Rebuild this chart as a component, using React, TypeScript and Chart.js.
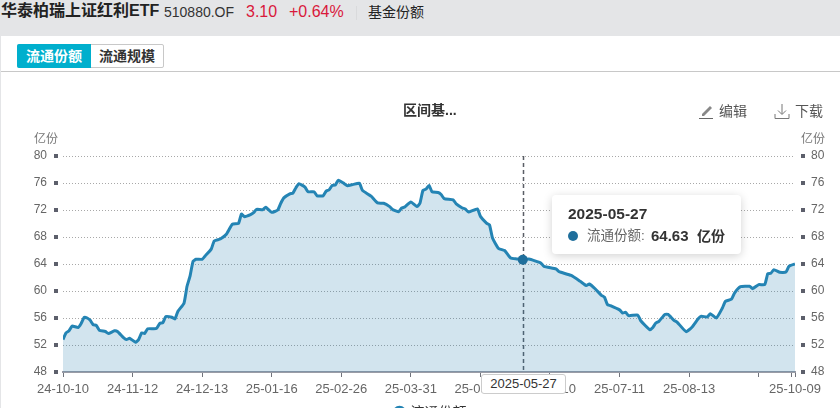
import React, { useEffect, useRef } from "react";
import { Chart, registerables } from "chart.js";

Chart.register(...registerables);

const FONT = '"Liberation Sans", "Noto Sans CJK SC", sans-serif';

const seriesName = "流通份额";
const unit = "亿份";
const activeDate = "2025-05-27";
const activeDay = 152;

const tickDays = [0, 23, 46, 69, 92, 115, 138, 161, 184, 207, 230, 241, 242];
const tickLabels = ["24-10-10", "24-11-12", "24-12-13", "25-01-16", "25-02-26", "25-03-31", "25-05-07", "25-06-10", "25-07-11", "25-08-13", "", "", "25-10-09"];

const days = [
  0, 1, 2, 3, 5, 6, 7, 8, 9, 10, 11, 12, 14, 15, 17, 18, 20, 21, 22, 24, 25, 26, 27, 28, 30, 31, 32, 33, 34, 36, 37, 38, 40, 41, 42, 43, 44, 46, 47, 49, 50, 52, 54, 56, 58, 59, 60, 62, 63, 64, 66, 67, 69, 71,
  72, 73, 75, 76, 77, 78, 80, 81, 83, 84, 86, 87, 88, 89, 90, 91, 93, 94, 96, 98, 99, 101, 102, 104, 106, 108, 109, 111, 112, 113, 115, 117, 118, 119, 120, 121, 122, 124, 125, 126, 129, 130, 132, 133, 134, 137, 138, 140, 141, 142, 144, 146, 148, 150, 152,
  154, 158, 159, 163, 164, 168, 171, 173, 174, 176, 178, 179, 180, 181, 184, 185, 186, 187, 190, 191, 194, 195, 196, 197, 199, 200, 202, 203, 206, 208, 210, 211, 213, 214, 216, 218, 219, 221, 222, 224, 227, 228, 230, 232, 233, 234, 235, 237, 239, 240, 242,
];
const shares = [
  52.8, 53.8, 54.1, 54.8, 54.6, 55.2, 56.1, 56.0, 55.65, 55.0, 54.9, 54.2, 54.0, 53.7, 54.1, 54.0, 53.1, 52.8, 53.0, 52.4, 52.8, 53.8, 53.7, 54.4, 54.4, 54.5, 55.2, 55.3, 56.2, 56.1, 55.85, 57.0, 58.2, 60.7, 62.2, 64.4, 64.7, 64.7, 65.2, 66.2, 67.4, 67.7, 68.4, 69.9, 70.0, 71.4, 71.0, 71.3, 71.6, 72.1, 72.05, 72.4, 71.65, 72.0,
  73.0, 73.8, 74.4, 74.5, 75.3, 75.9, 75.4, 74.7, 74.7, 74.1, 74.1, 74.8, 75.0, 75.65, 75.7, 76.4, 75.9, 75.6, 75.8, 75.95, 74.9, 74.3, 74.0, 73.05, 73.0, 72.5, 72.05, 71.75, 72.3, 72.45, 73.2, 72.5, 73.0, 74.9, 75.1, 75.65, 74.7, 74.6, 74.3, 73.7, 73.5, 72.9, 72.3, 72.15, 71.7, 72.15, 71.05, 70.05, 69.8, 67.85, 66.3, 66.0, 64.9, 64.75, 64.63,
  64.74, 64.15, 63.65, 63.26, 62.86, 62.3, 61.43, 60.8, 61.04, 60.3, 59.36, 59.1, 57.97, 57.83, 57.2, 56.74, 56.84, 56.35, 56.44, 55.6, 54.27, 54.6, 55.26, 55.5, 56.54, 56.54, 55.65, 55.4, 53.98, 54.67, 55.9, 56.25, 56.15, 56.64, 56.0, 57.48, 58.47, 58.8, 59.7, 60.64, 60.7, 60.35, 60.94, 60.94, 62.57, 62.62, 63.16, 62.77, 62.8, 63.65, 64.0,
];

const abs = (left: number, top: number, extra: React.CSSProperties = {}): React.CSSProperties => ({
  position: "absolute",
  left,
  top,
  whiteSpace: "nowrap",
  ...extra,
});

export default function App() {
  const canvasRef = useRef<HTMLCanvasElement>(null);
  const tipRef = useRef<HTMLDivElement>(null);
  const tipValueRef = useRef<HTMLSpanElement>(null);
  const dateBoxRef = useRef<HTMLDivElement>(null);

  useEffect(() => {
    document.body.style.margin = "0";
    document.body.style.overflow = "hidden";
    document.documentElement.style.overflow = "hidden";

    const decorations = {
      id: "decorations",
      afterLayout(chart: any) {
        chart.legend.left += 11;
        chart.legend.right += 11;
      },
      beforeDatasetsDraw(chart: any) {
        const { ctx, chartArea } = chart;
        const active = chart.getActiveElements()[0];
        if (!active) return;
        ctx.save();
        ctx.strokeStyle = "#5a5e66";
        ctx.lineWidth = 1.5;
        ctx.setLineDash([4, 3]);
        ctx.beginPath();
        const x = Math.round(active.element.x) + 0.5;
        ctx.moveTo(x, chartArea.top);
        ctx.lineTo(x, chartArea.bottom);
        ctx.stroke();
        ctx.restore();
      },
      afterDraw(chart: any) {
        const { ctx, chartArea, scales } = chart;
        ctx.save();
        ctx.fillStyle = "#5c5f6b";
        scales.y.ticks.forEach((_: any, i: number) => {
          const y = Math.round(scales.y.getPixelForTick(i));
          ctx.fillRect(chartArea.left - 9, y - 2, 4, 4);
          ctx.fillRect(chartArea.right + 6, y - 2, 4, 4);
        });
        ctx.restore();
      },
    };

    const yCommon = {
      min: 48,
      max: 80,
      ticks: {
        stepSize: 4,
        padding: 16,
        color: "#666",
        font: { family: FONT, size: 12 },
      },
    };

    const chart = new Chart(canvasRef.current!, {
      type: "line",
      data: {
        datasets: [
          {
            label: seriesName,
            data: days.map((d, i) => ({ x: d, y: shares[i] })),
            borderColor: "#2484b4",
            backgroundColor: "rgba(31,119,170,0.2)",
            borderWidth: 3,
            fill: "start",
            tension: 0.15,
            pointRadius: 0,
            pointStyle: "circle",
            pointHoverRadius: 5,
            pointHoverBorderWidth: 0,
            pointBackgroundColor: "#2484b4",
            pointHoverBackgroundColor: "#1f6f9c",
            yAxisID: "y",
          },
        ],
      },
      options: {
        responsive: false,
        animation: false,
        events: [],
        layout: { padding: { top: 156, left: 0, right: 0, bottom: 0 } },
        scales: {
          x: {
            type: "linear",
            min: 0,
            max: 242,
            grid: { drawOnChartArea: false, drawTicks: true, tickLength: 5, color: "#70737c" },
            border: { display: true, color: "#9a9ca6", width: 2 },
            afterBuildTicks(scale: any) {
              scale.ticks = tickDays.map((value) => ({ value }));
            },
            afterFit(scale: any) {
              scale.height = 24;
            },
            ticks: {
              autoSkip: false,
              maxRotation: 0,
              minRotation: 0,
              padding: 5,
              color: "#666",
              font: { family: FONT, size: 13 },
              callback: (v: any) => tickLabels[tickDays.indexOf(v)] ?? "",
            },
          },
          y: {
            ...yCommon,
            position: "left",
            border: { display: false, dash: [1, 2] },
            grid: { drawTicks: false, color: "#a8a8a8", lineWidth: 1 },
            afterFit(scale: any) {
              scale.width = 63;
            },
          },
          y2: {
            ...yCommon,
            position: "right",
            border: { display: false },
            grid: { display: false, drawTicks: false },
            afterFit(scale: any) {
              scale.width = 45;
            },
          },
        } as any,
        plugins: {
          title: { display: false },
          legend: {
            display: true,
            position: "bottom",
            labels: {
              usePointStyle: true,
              boxWidth: 8,
              boxHeight: 8,
              padding: 10,
              color: "#333",
              font: { family: FONT, size: 14 },
            },
          },
          tooltip: {
            enabled: false,
            external({ tooltip }: any) {
              const tip = tipRef.current!;
              const box = dateBoxRef.current!;
              const point = tooltip.dataPoints?.[0];
              if (!point) return;
              tip.style.display = "block";
              tip.style.left = `${Math.round(tooltip.caretX) + 29}px`;
              tip.style.top = `${Math.round(tooltip.caretY) - 65}px`;
              tipValueRef.current!.textContent = point.parsed.y.toFixed(2);
              box.style.display = "block";
              box.style.left = `${Math.round(tooltip.caretX) - 42}px`;
            },
          },
        },
      } as any,
      plugins: [decorations],
    });

    const index = days.indexOf(activeDay);
    const active = [{ datasetIndex: 0, index }];
    chart.setActiveElements(active);
    chart.update();
    const el = chart.getDatasetMeta(0).data[index] as any;
    chart.tooltip!.setActiveElements(active, { x: el.x, y: el.y });
    chart.render();

    return () => chart.destroy();
  }, []);

  return (
    <div style={{ position: "relative", width: 840, height: 408, overflow: "hidden", background: "#fff", fontFamily: FONT }}>
      <div style={abs(0, 0, { width: 840, height: 36, background: "#e4e5e7" })} />
      <div style={abs(0, 36, { width: 1, height: 372, background: "#e4e5e7" })} />
      <div style={abs(1, 1, { fontSize: 16, fontWeight: 700, color: "#222", lineHeight: "20px" })}>华泰柏瑞上证红利ETF</div>
      <div style={abs(164, 3, { fontSize: 14, color: "#333", lineHeight: "18px" })}>510880.OF</div>
      <div style={abs(246, 2, { fontSize: 16, color: "#d9183b", lineHeight: "20px" })}>3.10</div>
      <div style={abs(289, 2, { fontSize: 16, color: "#d9183b", lineHeight: "20px" })}>+0.64%</div>
      <div style={abs(356, 6, { width: 1, height: 14, background: "#d9dadc" })} />
      <div style={abs(368, 3, { fontSize: 14, color: "#222", lineHeight: "18px" })}>基金份额</div>

      <div style={abs(17, 44, { width: 147, height: 24, border: "1px solid #c8c8c8", borderRadius: 2, boxSizing: "border-box" })} />
      <div style={abs(17, 44, { width: 74, height: 24, background: "#00afcd", borderRadius: "2px 0 0 2px", color: "#fff", fontSize: 14, fontWeight: 700, lineHeight: "24px", textAlign: "center" })}>流通份额</div>
      <div style={abs(91, 44, { width: 72, height: 24, color: "#333", fontSize: 14, fontWeight: 700, lineHeight: "24px", textAlign: "center" })}>流通规模</div>
      <div style={abs(1, 71, { width: 839, height: 1, background: "#c8c8c8" })} />

      <canvas ref={canvasRef} width={840} height={430} style={abs(0, 0, { display: "block" })} />

      <div style={abs(403, 102, { fontSize: 14, fontWeight: 700, color: "#333", lineHeight: "16px" })}>区间基...</div>

      <svg style={abs(699, 103)} width={16} height={16} viewBox="0 0 16 16" fill="none">
        <path d="M3 11 L11 3 L13 5 L5 13 L3 13 Z" fill="#888" />
        <path d="M0 15.5 H14" stroke="#666" strokeWidth="1" />
      </svg>
      <div style={abs(719, 102, { fontSize: 14, color: "#555", lineHeight: "18px" })}>编辑</div>
      <svg style={abs(774, 103)} width={16} height={16} viewBox="0 0 16 16" fill="none" stroke="#777" strokeWidth="1">
        <path d="M8 1 V11 M4 7.5 L8 11.5 L12 7.5" />
        <path d="M1 11 V15.5 H15 V11" />
      </svg>
      <div style={abs(795, 102, { fontSize: 14, color: "#555", lineHeight: "18px" })}>下载</div>

      <div style={abs(34, 131, { fontSize: 12, color: "#777", lineHeight: "16px" })}>{unit}</div>
      <div style={abs(801, 131, { fontSize: 12, color: "#777", lineHeight: "16px" })}>{unit}</div>

      <div
        ref={tipRef}
        style={abs(552, 194, {
          display: "none",
          width: 189,
          height: 59,
          boxSizing: "border-box",
          background: "#fff",
          borderRadius: 4,
          boxShadow: "0 2px 10px rgba(0,0,0,0.18)",
        })}
      >
        <div style={abs(16, 10, { fontSize: 15.5, fontWeight: 700, color: "#333", lineHeight: "18px" })}>{activeDate}</div>
        <div style={abs(16, 36, { width: 10, height: 10, borderRadius: 5, background: "#1f6f9c" })} />
        <div style={abs(35, 33, { fontSize: 13.5, color: "#666", lineHeight: "16px" })}>{seriesName}:</div>
        <span ref={tipValueRef} style={abs(99, 32, { fontSize: 15, fontWeight: 700, color: "#333", lineHeight: "18px" })} />
        <div style={abs(145, 33, { fontSize: 14, fontWeight: 700, color: "#333", lineHeight: "16px" })}>{unit}</div>
      </div>

      <div
        ref={dateBoxRef}
        style={abs(481, 374, {
          display: "none",
          width: 85,
          height: 20,
          boxSizing: "border-box",
          background: "#fff",
          border: "1px solid #ccc",
          borderRadius: 3,
          fontSize: 13,
          color: "#333",
          lineHeight: "18px",
          textAlign: "center",
        })}
      >
        {activeDate}
      </div>
    </div>
  );
}
